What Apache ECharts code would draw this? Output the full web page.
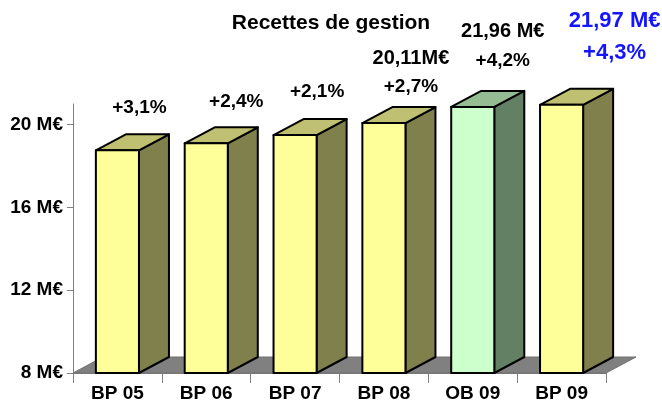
<!DOCTYPE html>
<html>
<head>
<meta charset="utf-8">
<script src="https://cdn.jsdelivr.net/npm/echarts@6/dist/echarts.min.js"></script>
<style>
  html, body { margin: 0; padding: 0; background: #fff; }
  #main { width: 662px; height: 403px; }
</style>
</head>
<body>
<div id="main"></div>
<script>
// données
const categories = ['BP 05', 'BP 06', 'BP 07', 'BP 08', 'OB 09', 'BP 09'];
const values = [18.76, 19.1, 19.5, 20.08, 20.86, 20.96];
const growthLabels = ['+3,1%', '+2,4%', '+2,1%', '+2,7%', '+4,2%', '+4,3%'];
const amountLabels = ['', '', '', '20,11M€', '21,96 M€', '21,97 M€'];
const yTicks = [8, 12, 16, 20];

// mise en page des étiquettes (décalage par rapport au haut de la face avant)
const labelShift = [[22, -43], [30, -42], [22, -43], [27, -36], [30, -46], [53, -52]];
const FONT = '"Liberation Sans", Arial, sans-serif';
const DX = 30, DY = -16; // profondeur 3D

const yellow = { front: '#FFFF99', top: '#C0C072', side: '#80804C' };
const green = { front: '#CCFFCC', top: '#96BC94', side: '#648064' };

const chart = echarts.init(document.getElementById('main'));

function renderFloor(params, api) {
  const cs = params.coordSys;
  const yb = cs.y + cs.height;
  return {
    type: 'polygon',
    shape: { points: [[cs.x, yb], [cs.x + DX, yb + DY], [cs.x + cs.width + DX, yb + DY], [cs.x + cs.width, yb]] },
    style: { fill: '#808080', stroke: '#707070', lineWidth: 1 }
  };
}

function renderBar(params, api) {
  const i = api.value(0);
  const top = api.coord([i, api.value(1)]);
  const base = api.coord([i, 8]);
  const w = api.size([1, 0])[0] * 0.485;
  const l = top[0] - w / 2, r = top[0] + w / 2;
  const t = top[1], b = base[1];
  const c = categories[i] === 'OB 09' ? green : yellow;
  const line = { stroke: '#000', lineWidth: 2, lineJoin: 'round' };
  const children = [
    { type: 'polygon', shape: { points: [[r, t], [r + DX, t + DY], [r + DX, b + DY], [r, b]] },
      style: Object.assign({ fill: c.side }, line) },
    { type: 'polygon', shape: { points: [[l, t], [l + DX, t + DY], [r + DX, t + DY], [r, t]] },
      style: Object.assign({ fill: c.top }, line) },
    { type: 'rect', shape: { x: l, y: t, width: w, height: b - t },
      style: Object.assign({ fill: c.front }, line) }
  ];
  const last = i === categories.length - 1;
  const color = last ? '#1414FF' : '#000';
  const cx = top[0] + labelShift[i][0];
  const cy = t + labelShift[i][1];
  children.push({
    type: 'text',
    style: { text: growthLabels[i], x: cx, y: cy, align: 'center', verticalAlign: 'middle',
      font: 'bold ' + (last ? 22 : 19) + 'px ' + FONT, fill: color }
  });
  if (amountLabels[i]) {
    children.push({
      type: 'text',
      style: { text: amountLabels[i], x: cx, y: cy - (last ? 32 : 29), align: 'center', verticalAlign: 'middle',
        font: 'bold ' + (last ? 22 : 20) + 'px ' + FONT, fill: color }
    });
  }
  return { type: 'group', children: children };
}

const option = {
  animation: false,
  title: {
    text: 'Recettes de gestion',
    left: 'center',
    top: 8,
    textStyle: { fontFamily: FONT, fontWeight: 'bold', fontSize: 21, color: '#000' }
  },
  grid: { left: 73, right: 56, top: 104, bottom: 30 },
  xAxis: {
    type: 'category',
    data: categories,
    axisLine: { lineStyle: { color: '#808080', width: 1 } },
    axisTick: { show: true, interval: 0, length: 10, lineStyle: { color: '#808080' } },
    axisLabel: { margin: 11, fontFamily: FONT, fontWeight: 'bold', fontSize: 19, color: '#000' }
  },
  yAxis: {
    type: 'value',
    min: 8,
    max: 21,
    interval: 4,
    axisLine: { show: true, lineStyle: { color: '#808080', width: 1 } },
    axisTick: { show: true, length: 6, customValues: yTicks, lineStyle: { color: '#808080' } },
    axisLabel: { customValues: yTicks, margin: 10, formatter: '{value} M€',
      fontFamily: FONT, fontWeight: 'bold', fontSize: 19, color: '#000' },
    splitLine: { show: false }
  },
  series: [
    { type: 'custom', renderItem: renderFloor, data: [[0, 8]], z: 1, silent: true },
    { type: 'custom', renderItem: renderBar, data: values.map((v, i) => [i, v]), z: 2,
      encode: { x: 0, y: 1 } }
  ]
};
chart.setOption(option);
</script>
</body>
</html>
